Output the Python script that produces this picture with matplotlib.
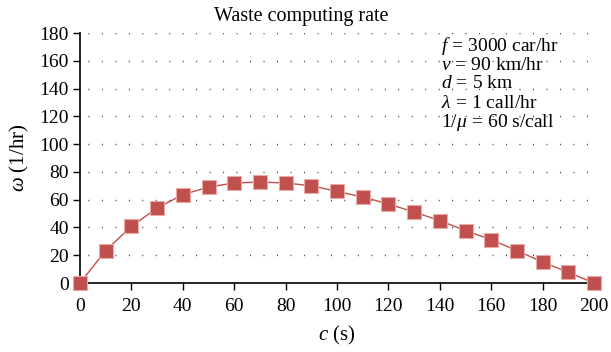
import matplotlib
matplotlib.use("Agg")
import matplotlib.pyplot as plt

plt.rcParams['font.family'] = 'Liberation Serif'
plt.rcParams['mathtext.fontset'] = 'custom'
plt.rcParams['mathtext.rm'] = 'Liberation Serif'
plt.rcParams['mathtext.it'] = 'Liberation Serif:italic'

c_values = [0, 10, 20, 30, 40, 50, 60, 70, 80, 90, 100,
            110, 120, 130, 140, 150, 160, 170, 180, 190, 200]
w_values = [0, 23.3, 40.8, 54.0, 63.6, 69.1, 72.0, 72.7, 72.0, 70.0, 66.0,
            61.9, 56.9, 51.1, 44.9, 37.7, 31.2, 23.3, 15.1, 7.7, 0]
x_ticks = list(range(0, 201, 20))
y_ticks = list(range(0, 181, 20))
params = [r"$f\,=\,$3000 car/hr",
          r"$v\,=\,$90 km/hr",
          r"$d\,=\,$5 km",
          r"$\lambda\,=\,$1 call/hr",
          r"1/$\mu\,=\,$60 s/call"]

fig = plt.figure(figsize=(6.11, 3.52), dpi=100)
ax = fig.add_axes([80 / 611, 1 - 283 / 352, (594 - 80) / 611, 250 / 352])

red = '#C0504D'
ax.plot(c_values, w_values, color=red, lw=1.0, marker='s', markersize=10,
        markerfacecolor=red, markeredgecolor='#E8A9A7', markeredgewidth=0.8,
        clip_on=False, zorder=3)

ax.set_xlim(0, 200)
ax.set_ylim(0, 180)
ax.set_xticks(x_ticks)
ax.set_yticks(y_ticks)
ax.tick_params(axis='both', labelsize=14, direction='out', length=5,
               width=1, colors='black')
ax.tick_params(axis='x', pad=6)
ax.tick_params(axis='y', pad=3)

for s in ('top', 'right'):
    ax.spines[s].set_visible(False)
for s in ('left', 'bottom'):
    ax.spines[s].set_linewidth(1.2)

ax.yaxis.grid(True, color='#333333', linestyle=(4, (0.7, 9.0)), linewidth=1.0)
ax.set_axisbelow(True)

ax.set_xlabel(r"$c$ (s)", fontsize=15, labelpad=6)
ax.set_ylabel(r"$\omega$ (1/hr)", fontsize=15, labelpad=6)
fig.text(301 / 611, 1 - 17 / 352, "Waste computing rate", fontsize=14.5,
         ha='center', va='center')

for i, line in enumerate(params):
    ax.text(441 / 611, 1 - (46 + i * 19) / 352, line, transform=fig.transFigure,
            fontsize=14, va='center', ha='left')

fig.savefig("out.png", dpi=100)
